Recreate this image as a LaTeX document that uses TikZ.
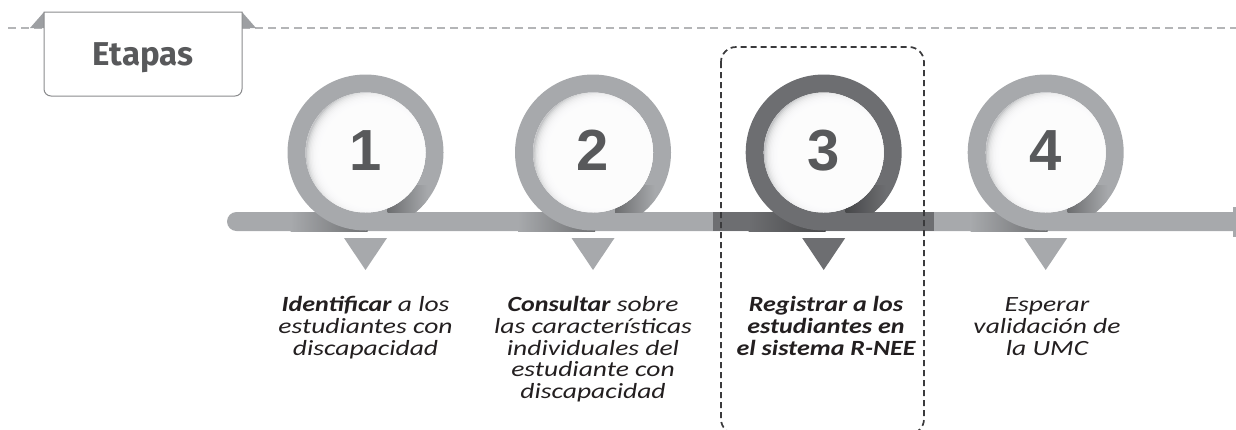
\documentclass[tikz,border=0pt]{standalone}
\usepackage{fontspec}
\setmainfont[FakeStretch=1.27, BoldItalicFeatures={FakeStretch=1.2}]{Carlito}
\newfontfamily\numfont{Liberation Sans}
\newfontfamily\etfont{Fira Sans}
\definecolor{ringgray}{HTML}{A7A9AC}
\definecolor{ringdark}{HTML}{6D6E71}
\definecolor{numcol}{HTML}{58595B}
\definecolor{dashcol}{HTML}{B4B5B7}
\definecolor{boxcol}{HTML}{8A8B8D}
\definecolor{tricol}{HTML}{9D9FA2}
\definecolor{txtcol}{HTML}{231F20}
\definecolor{dboxcol}{HTML}{3A3A3C}
\definecolor{shadowgray}{HTML}{C4C5C7}
\tikzset{
  topdash/.style={draw=dashcol, line width=2.5pt, dash pattern=on 8pt off 5pt},
  dashbox/.style={draw=dboxcol, line width=1.7pt, dash pattern=on 6pt off 4pt, rounded corners=15pt},
  steptext/.style={font=\fontsize{21.7}{21.7}\selectfont\itshape, text=txtcol, align=center, inner sep=0pt},
  numtext/.style={font=\numfont\bfseries\fontsize{58}{60}\selectfont, text=numcol, inner sep=0pt},
  etatext/.style={font=\etfont\bfseries\fontsize{33}{40}\selectfont, text=numcol, inner sep=0pt}
}
\begin{document}
\begin{tikzpicture}[x=1pt,y=-1pt]
\useasboundingbox (0,0) rectangle (1236,429);
\clip (0,0) rectangle (1236,429);
% top dashed line
\coordinate (ls) at (8,28);
\coordinate (le) at (1240,28);
\draw[topdash] (ls) -- (le);
% Etapas tab
\fill[tricol] (30,28) -- (44,12) -- (44,28) -- cycle;
\fill[tricol] (242,12) -- (256,28) -- (242,28) -- cycle;
\draw[boxcol, line width=1pt, fill=white] (44,12) -- (242,12) [rounded corners=7pt] -- (242,96) -- (44,96) [sharp corners] -- (44,12) -- cycle;
\node[etatext, anchor=base] (etapas) at (143,65) {Etapas};
% timeline bar
\fill[ringgray, rounded corners=9.5pt] (227,212) rectangle (1250,231);
\fill[ringgray] (1233,207) rectangle (1236,237);
\fill[ringdark] (713,212) rectangle (934,231);
% steps
\foreach \cx/\n/\col in {365.5/1/ringgray, 593/2/ringgray, 823.7/3/ringdark, 1045.7/4/ringgray}{
  \coordinate (c\n) at (\cx,152.5);
  % shadow cast on the bar, left of the ring
  \shade[left color=\col, right color=\col!66!black] (\cx-75,212) rectangle (\cx+2,231);
  % ring
  \fill[\col, even odd rule] (c\n) circle[radius=78pt] (c\n) circle[radius=60pt];
  % shadow inside ring bottom right
  \begin{scope}[even odd rule]
    \clip (\cx,185) rectangle (\cx+70,212.5);
    \clip (c\n) circle[radius=78pt] (c\n) circle[radius=60pt];
    \shade[left color=\col!65!black, right color=\col] (\cx+22,185) rectangle (\cx+62,212.5);
  \end{scope}
  % inner disc with soft shadow
  \begin{scope}
    \clip (c\n) circle[radius=60pt];
    \fill[shadowgray] (c\n) circle[radius=61pt];
    \foreach \k in {1,...,10}{
      \fill[white, opacity=0.3] ([shift={(7,3)}]c\n) circle[radius={67pt-\k*1.4pt}];
    }
  \end{scope}
  \node[numtext, anchor=base] (n\n) at (\cx,170.7) {\n};
  % pointer triangle
  \fill[\col] (\cx-21.5,238) -- (\cx+21.5,238) -- (\cx,270) -- cycle;
}
% dashed highlight box
\draw[dashbox] (721,47) rectangle (924,434);
% texts (anchor = baseline of last line)
\node[steptext, anchor=base] (t1) at (365.5,355.1) {\textbf{Identificar} a los\\estudiantes con\\discapacidad};
\node[steptext, anchor=base] (t2) at (593,398.5) {\textbf{Consultar} sobre\\las características\\individuales del\\estudiante con\\discapacidad};
\node[steptext, anchor=base, font=\fontsize{21.7}{21.7}\selectfont\itshape\bfseries] (t3) at (826,355.1) {Registrar a los\\estudiantes en\\el sistema R-NEE};
\node[steptext, anchor=base] (t4) at (1047,355.1) {Esperar\\validación de\\la UMC};
\end{tikzpicture}
\end{document}
